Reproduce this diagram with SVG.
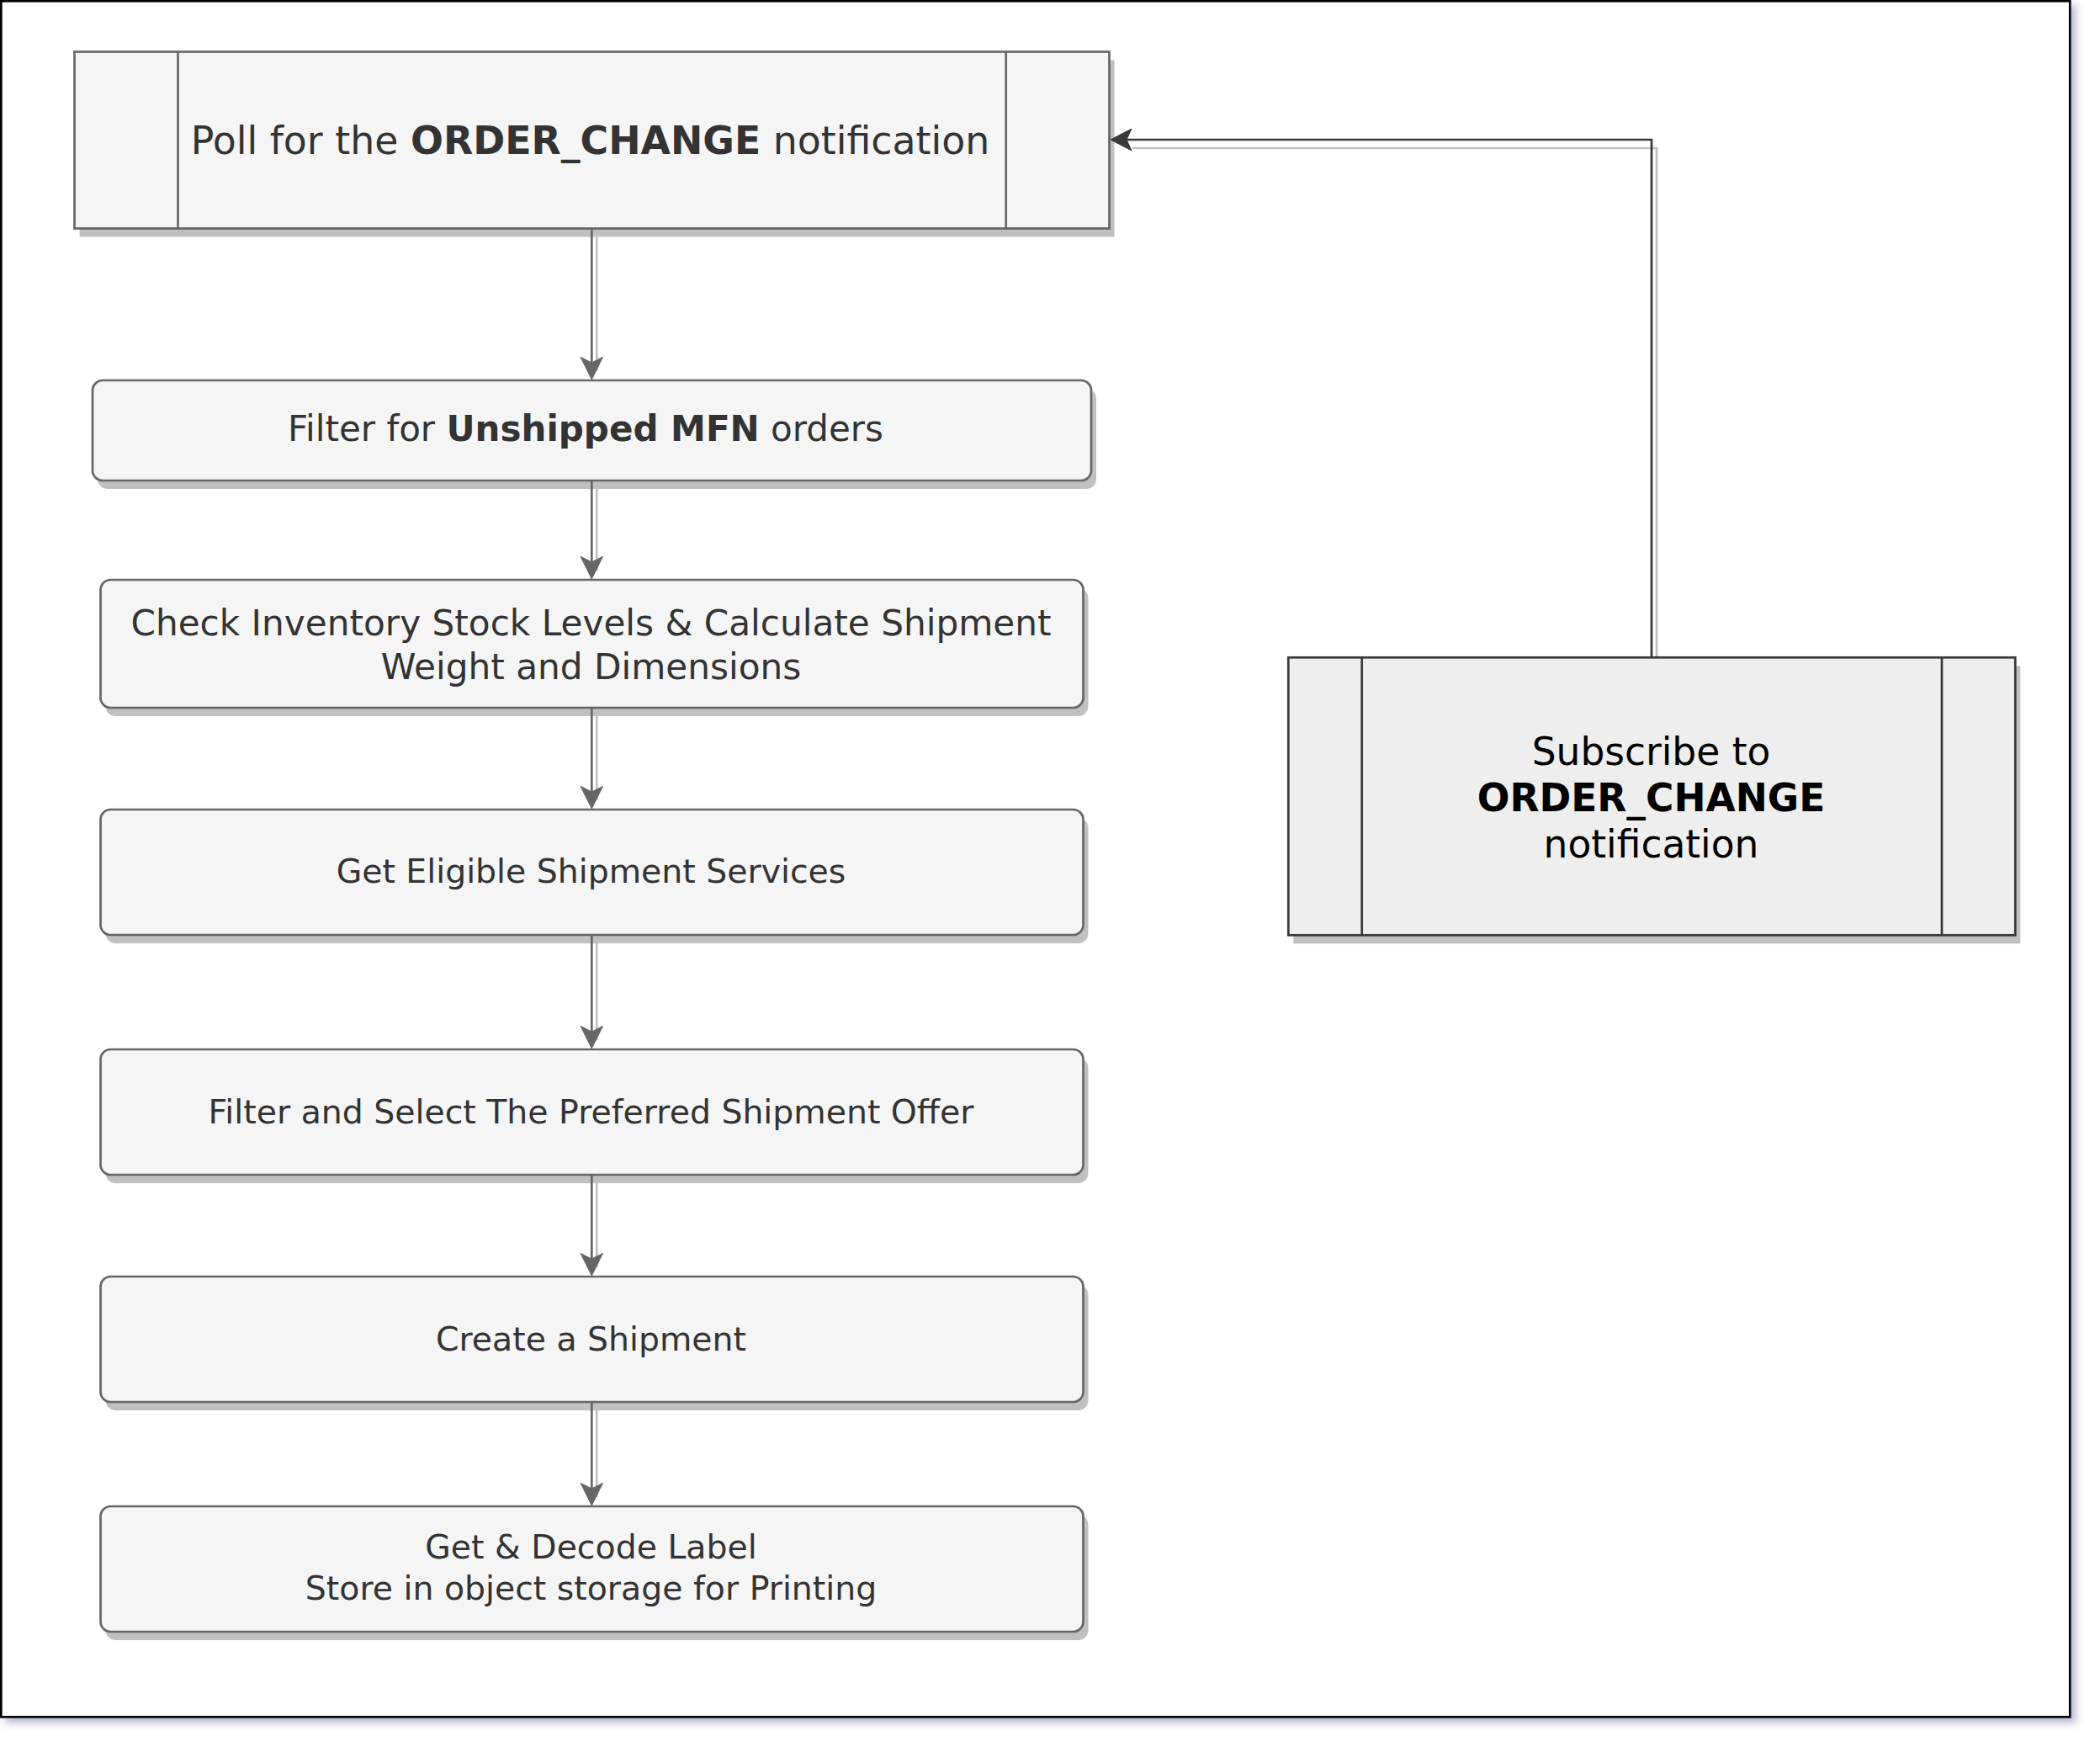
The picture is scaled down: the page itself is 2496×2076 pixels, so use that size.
<svg xmlns="http://www.w3.org/2000/svg" width="2496" height="2076" viewBox="0 0 2496 2076">
<defs>
<style>
.box{fill:#f5f5f5;stroke:#666666;stroke-width:2.7}
.sh{fill:#c0c0c0;stroke:none}
.proc2{fill:#eeeeee;stroke:#36393d;stroke-width:2.7}
.t{font-family:"DejaVu Sans","Verdana",sans-serif;font-size:39.4px;fill:#333333;text-anchor:middle}
.tf{font-size:42px}
.tc{font-size:42.2px}
.tp{font-family:"DejaVu Sans","Verdana",sans-serif;font-size:45.8px;fill:#333333;text-anchor:middle}
.ts{font-family:"DejaVu Sans","Verdana",sans-serif;font-size:45.5px;fill:#000000;text-anchor:middle}
.b{font-weight:bold}
.ln{fill:none;stroke:#666666;stroke-width:2.7}
.lns{fill:none;stroke:#c0c0c0;stroke-width:2.7}
.ln2{fill:none;stroke:#36393d;stroke-width:2.7}
.ah{fill:#666666;stroke:#666666;stroke-width:1}
.ah2{fill:#36393d;stroke:#36393d;stroke-width:1}
</style>
<filter id="fs" x="-5%" y="-5%" width="110%" height="110%">
<feDropShadow dx="6" dy="6" stdDeviation="4" flood-color="#34427a" flood-opacity="0.35"/>
</filter>
</defs>
<rect id="frame" x="1.3" y="1.3" width="2459" height="2039" fill="#ffffff" stroke="#000000" stroke-width="2.7" filter="url(#fs)"/>

<g id="connector-shadows">
<path class="lns" d="M709.3 281.3 V441"/>
<path class="lns" d="M709.3 581 V678"/>
<path class="lns" d="M709.3 851 V951"/>
<path class="lns" d="M709.3 1121 V1236"/>
<path class="lns" d="M709.3 1406 V1506"/>
<path class="lns" d="M709.3 1676 V1779"/>
<path class="lns" d="M1969 791 V176 H1346"/>
</g>

<g id="node-poll">
<rect class="sh" x="94.5" y="71.5" width="1230" height="210"/>
<rect class="box" x="88.5" y="61.5" width="1230" height="210"/>
<line x1="211.5" y1="61.5" x2="211.5" y2="271.5" stroke="#666666" stroke-width="2.7"/>
<line x1="1195.7" y1="61.5" x2="1195.7" y2="271.5" stroke="#666666" stroke-width="2.7"/>
<text class="tp" x="701.5" y="182.7">Poll for the <tspan class="b">ORDER_CHANGE</tspan> notification</text>
</g>

<g id="node-filter">
<rect class="sh" x="116" y="462" width="1187" height="119" rx="12"/>
<rect class="box" x="110" y="452" width="1187" height="119" rx="12"/>
<text class="t tf" x="696" y="524">Filter for <tspan class="b">Unshipped MFN</tspan> orders</text>
</g>

<g id="node-check">
<rect class="sh" x="125.5" y="699" width="1168" height="152" rx="12"/>
<rect class="box" x="119.5" y="689" width="1168" height="152" rx="12"/>
<text class="t tc" x="702.5" y="755">Check Inventory Stock Levels &amp; Calculate Shipment</text>
<text class="t tc" x="702.5" y="807">Weight and Dimensions</text>
</g>

<g id="node-eligible">
<rect class="sh" x="125.5" y="972" width="1168" height="149" rx="12"/>
<rect class="box" x="119.5" y="962" width="1168" height="149" rx="12"/>
<text class="t" x="702.5" y="1049">Get Eligible Shipment Services</text>
</g>

<g id="node-select">
<rect class="sh" x="125.5" y="1257" width="1168" height="149" rx="12"/>
<rect class="box" x="119.5" y="1247" width="1168" height="149" rx="12"/>
<text class="t" x="702.5" y="1334.5">Filter and Select The Preferred Shipment Offer</text>
</g>

<g id="node-create">
<rect class="sh" x="125.5" y="1527" width="1168" height="149" rx="12"/>
<rect class="box" x="119.5" y="1517" width="1168" height="149" rx="12"/>
<text class="t" x="702.5" y="1604.5">Create a Shipment</text>
</g>

<g id="node-label">
<rect class="sh" x="125.5" y="1800" width="1168" height="149" rx="12"/>
<rect class="box" x="119.5" y="1790" width="1168" height="149" rx="12"/>
<text class="t" x="702.5" y="1852">Get &amp; Decode Label</text>
<text class="t" x="702.5" y="1901">Store in object storage for Printing</text>
</g>

<g id="node-subscribe">
<rect class="sh" x="1537.3" y="791.3" width="864" height="330"/>
<rect class="proc2" x="1531.3" y="781.3" width="864" height="330"/>
<line x1="1618.7" y1="781.3" x2="1618.7" y2="1111.3" stroke="#36393d" stroke-width="2.7"/>
<line x1="2308" y1="781.3" x2="2308" y2="1111.3" stroke="#36393d" stroke-width="2.7"/>
<text class="ts" x="1962.5" y="908.5">Subscribe to</text>
<text class="ts b" x="1962.5" y="963.5">ORDER_CHANGE</text>
<text class="ts" x="1962.5" y="1018.5">notification</text>
</g>

<g id="connectors">
<path class="ln" d="M703.3 271.3 V431"/>
<path class="ah" d="M703.3 451 L690 424.3 L703.3 431 L716.6 424.3 Z"/>
<path class="ln" d="M703.3 571 V668"/>
<path class="ah" d="M703.3 688 L690 661.3 L703.3 668 L716.6 661.3 Z"/>
<path class="ln" d="M703.3 841 V941"/>
<path class="ah" d="M703.3 961 L690 934.3 L703.3 941 L716.6 934.3 Z"/>
<path class="ln" d="M703.3 1111 V1226"/>
<path class="ah" d="M703.3 1246 L690 1219.3 L703.3 1226 L716.6 1219.3 Z"/>
<path class="ln" d="M703.3 1396 V1496"/>
<path class="ah" d="M703.3 1516 L690 1489.3 L703.3 1496 L716.6 1489.3 Z"/>
<path class="ln" d="M703.3 1666 V1769"/>
<path class="ah" d="M703.3 1789 L690 1762.3 L703.3 1769 L716.6 1762.3 Z"/>
<path class="ln2" d="M1963 781.3 V166 H1339"/>
<path class="ah2" d="M1320 166 L1345 153 L1339 166 L1345 179 Z"/>
</g>
</svg>
